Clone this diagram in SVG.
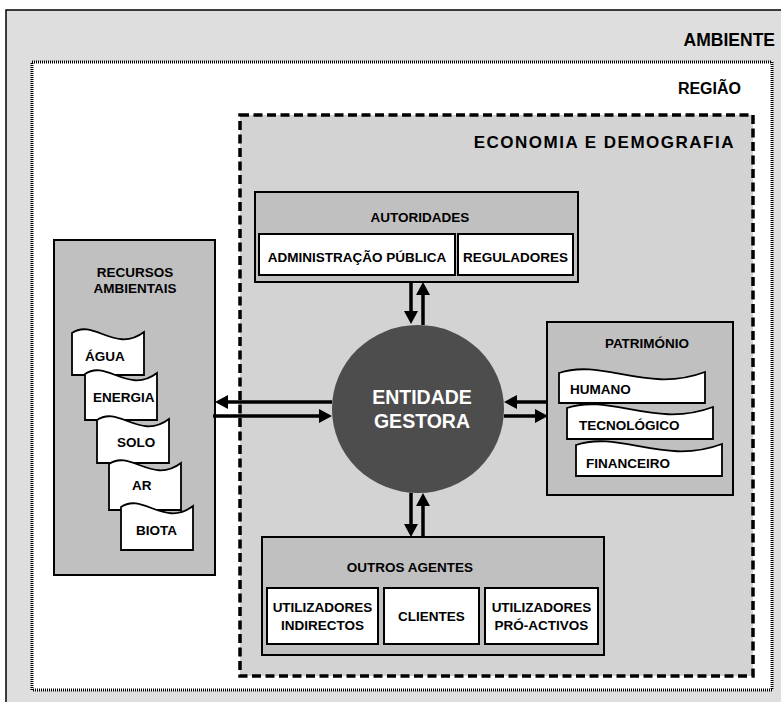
<svg xmlns="http://www.w3.org/2000/svg" width="781" height="702" viewBox="0 0 781 702">
  <style>
    text { font-family: "Liberation Sans", Arial, sans-serif; font-weight: bold; fill: #000; }
    .lbl { font-size: 13.5px; }
    .mid { text-anchor: middle; }
    .big { font-size: 16px; text-anchor: end; }
    .box { fill: #c0c0c0; stroke: #000; stroke-width: 2; }
    .inner { fill: #fff; stroke: #000; stroke-width: 2; }
    .sheet { fill: #fff; stroke: #000; stroke-width: 1.8; }
    .flow { fill: none; stroke: #000; stroke-width: 3.5; }
  </style>
  <defs>
    <marker id="head" markerUnits="userSpaceOnUse" markerWidth="14" markerHeight="14" refX="2" refY="7" orient="auto">
      <path d="M0,0 L13,7 L0,14 Z" fill="#000"/>
    </marker>
  </defs>

  <!-- environment -->
  <g id="ambiente">
    <rect x="6" y="10" width="800" height="720" fill="#dedede" stroke="#000" stroke-width="1.5"/>
    <text class="big" x="775" y="46" style="font-size:17.5px">AMBIENTE</text>
  </g>

  <!-- region -->
  <g id="regiao">
    <rect x="32" y="62" width="740" height="628" fill="#fff" stroke="#000" stroke-width="3" stroke-dasharray="1 1"/>
    <text class="big" x="741" y="94">REGIÃO</text>
  </g>

  <!-- economy and demography -->
  <g id="economia">
    <rect x="240" y="115" width="513" height="561" fill="#d3d3d3" stroke="#000" stroke-width="3.5" stroke-dasharray="9 4.5"/>
    <text class="big" x="735" y="148" style="font-size:17px; letter-spacing:1.5px">ECONOMIA E DEMOGRAFIA</text>
  </g>

  <!-- environmental resources -->
  <g id="recursos">
    <rect class="box" x="54" y="240" width="161" height="335"/>
    <text class="lbl mid" x="135" y="277">RECURSOS</text>
    <text class="lbl mid" x="135" y="293">AMBIENTAIS</text>
    <path class="sheet" d="M72,333 C93.6,318 115.2,354 144,332 V375 H72 Z"/>
    <text class="lbl" x="85" y="361">ÁGUA</text>
    <path class="sheet" d="M85,374 C106.6,359 128.2,395 157,373 V420 H85 Z"/>
    <text class="lbl" x="93" y="402">ENERGIA</text>
    <path class="sheet" d="M97,420 C118.6,405 140.2,441 169,419 V463 H97 Z"/>
    <text class="lbl" x="117" y="447">SOLO</text>
    <path class="sheet" d="M109,464 C130.6,449 152.2,485 181,463 V510 H109 Z"/>
    <text class="lbl" x="132" y="490">AR</text>
    <path class="sheet" d="M121,507 C142.6,492 164.2,528 193,506 V550 H121 Z"/>
    <text class="lbl" x="136" y="535">BIOTA</text>
  </g>

  <!-- authorities -->
  <g id="autoridades">
    <rect class="box" x="255" y="192" width="323" height="90"/>
    <text class="lbl mid" x="420" y="222">AUTORIDADES</text>
    <rect class="inner" x="259" y="234" width="196" height="41"/>
    <text class="lbl mid" x="357" y="262">ADMINISTRAÇÃO PÚBLICA</text>
    <rect class="inner" x="458" y="234" width="115" height="41"/>
    <text class="lbl mid" x="515.5" y="262">REGULADORES</text>
  </g>

  <!-- heritage -->
  <g id="patrimonio">
    <rect class="box" x="547" y="322" width="186" height="173"/>
    <text class="lbl mid" x="647" y="348">PATRIMÓNIO</text>
    <path class="sheet" d="M559,373 C602.8,358 646.6,394 705,372 V403 H559 Z"/>
    <text class="lbl" x="570" y="394">HUMANO</text>
    <path class="sheet" d="M567,408 C610.8,393 654.6,429 713,407 V439 H567 Z"/>
    <text class="lbl" x="579" y="430">TECNOLÓGICO</text>
    <path class="sheet" d="M576,445 C619.8,430 663.6,466 722,444 V476 H576 Z"/>
    <text class="lbl" x="586" y="468">FINANCEIRO</text>
  </g>

  <!-- other agents -->
  <g id="outros-agentes">
    <rect class="box" x="262" y="537" width="342" height="118"/>
    <text class="lbl mid" x="410" y="572">OUTROS AGENTES</text>
    <rect class="inner" x="267" y="588" width="111" height="56"/>
    <text class="lbl mid" x="322.5" y="612">UTILIZADORES</text>
    <text class="lbl mid" x="322.5" y="630">INDIRECTOS</text>
    <rect class="inner" x="384" y="588" width="95" height="56"/>
    <text class="lbl mid" x="431.5" y="621">CLIENTES</text>
    <rect class="inner" x="485" y="588" width="113" height="56"/>
    <text class="lbl mid" x="541.5" y="612">UTILIZADORES</text>
    <text class="lbl mid" x="541.5" y="630">PRÓ-ACTIVOS</text>
  </g>

  <!-- managing entity -->
  <g id="entidade-gestora">
    <ellipse cx="418" cy="409" rx="86" ry="84" fill="#4d4d4d"/>
    <text class="mid" x="422" y="404" style="font-size:19.5px; fill:#fff">ENTIDADE</text>
    <text class="mid" x="422" y="428" style="font-size:19.5px; fill:#fff">GESTORA</text>
  </g>

  <!-- flows -->
  <g id="connectors">
    <path class="flow" d="M411,282 V313" marker-end="url(#head)"/>
    <path class="flow" d="M423,325 V293" marker-end="url(#head)"/>
    <path class="flow" d="M332,402 H226" marker-end="url(#head)"/>
    <path class="flow" d="M213,416 H321" marker-end="url(#head)"/>
    <path class="flow" d="M548,402 H515" marker-end="url(#head)"/>
    <path class="flow" d="M504,416 H537" marker-end="url(#head)"/>
    <path class="flow" d="M411,493 V526" marker-end="url(#head)"/>
    <path class="flow" d="M423,537 V504" marker-end="url(#head)"/>
  </g>
</svg>
